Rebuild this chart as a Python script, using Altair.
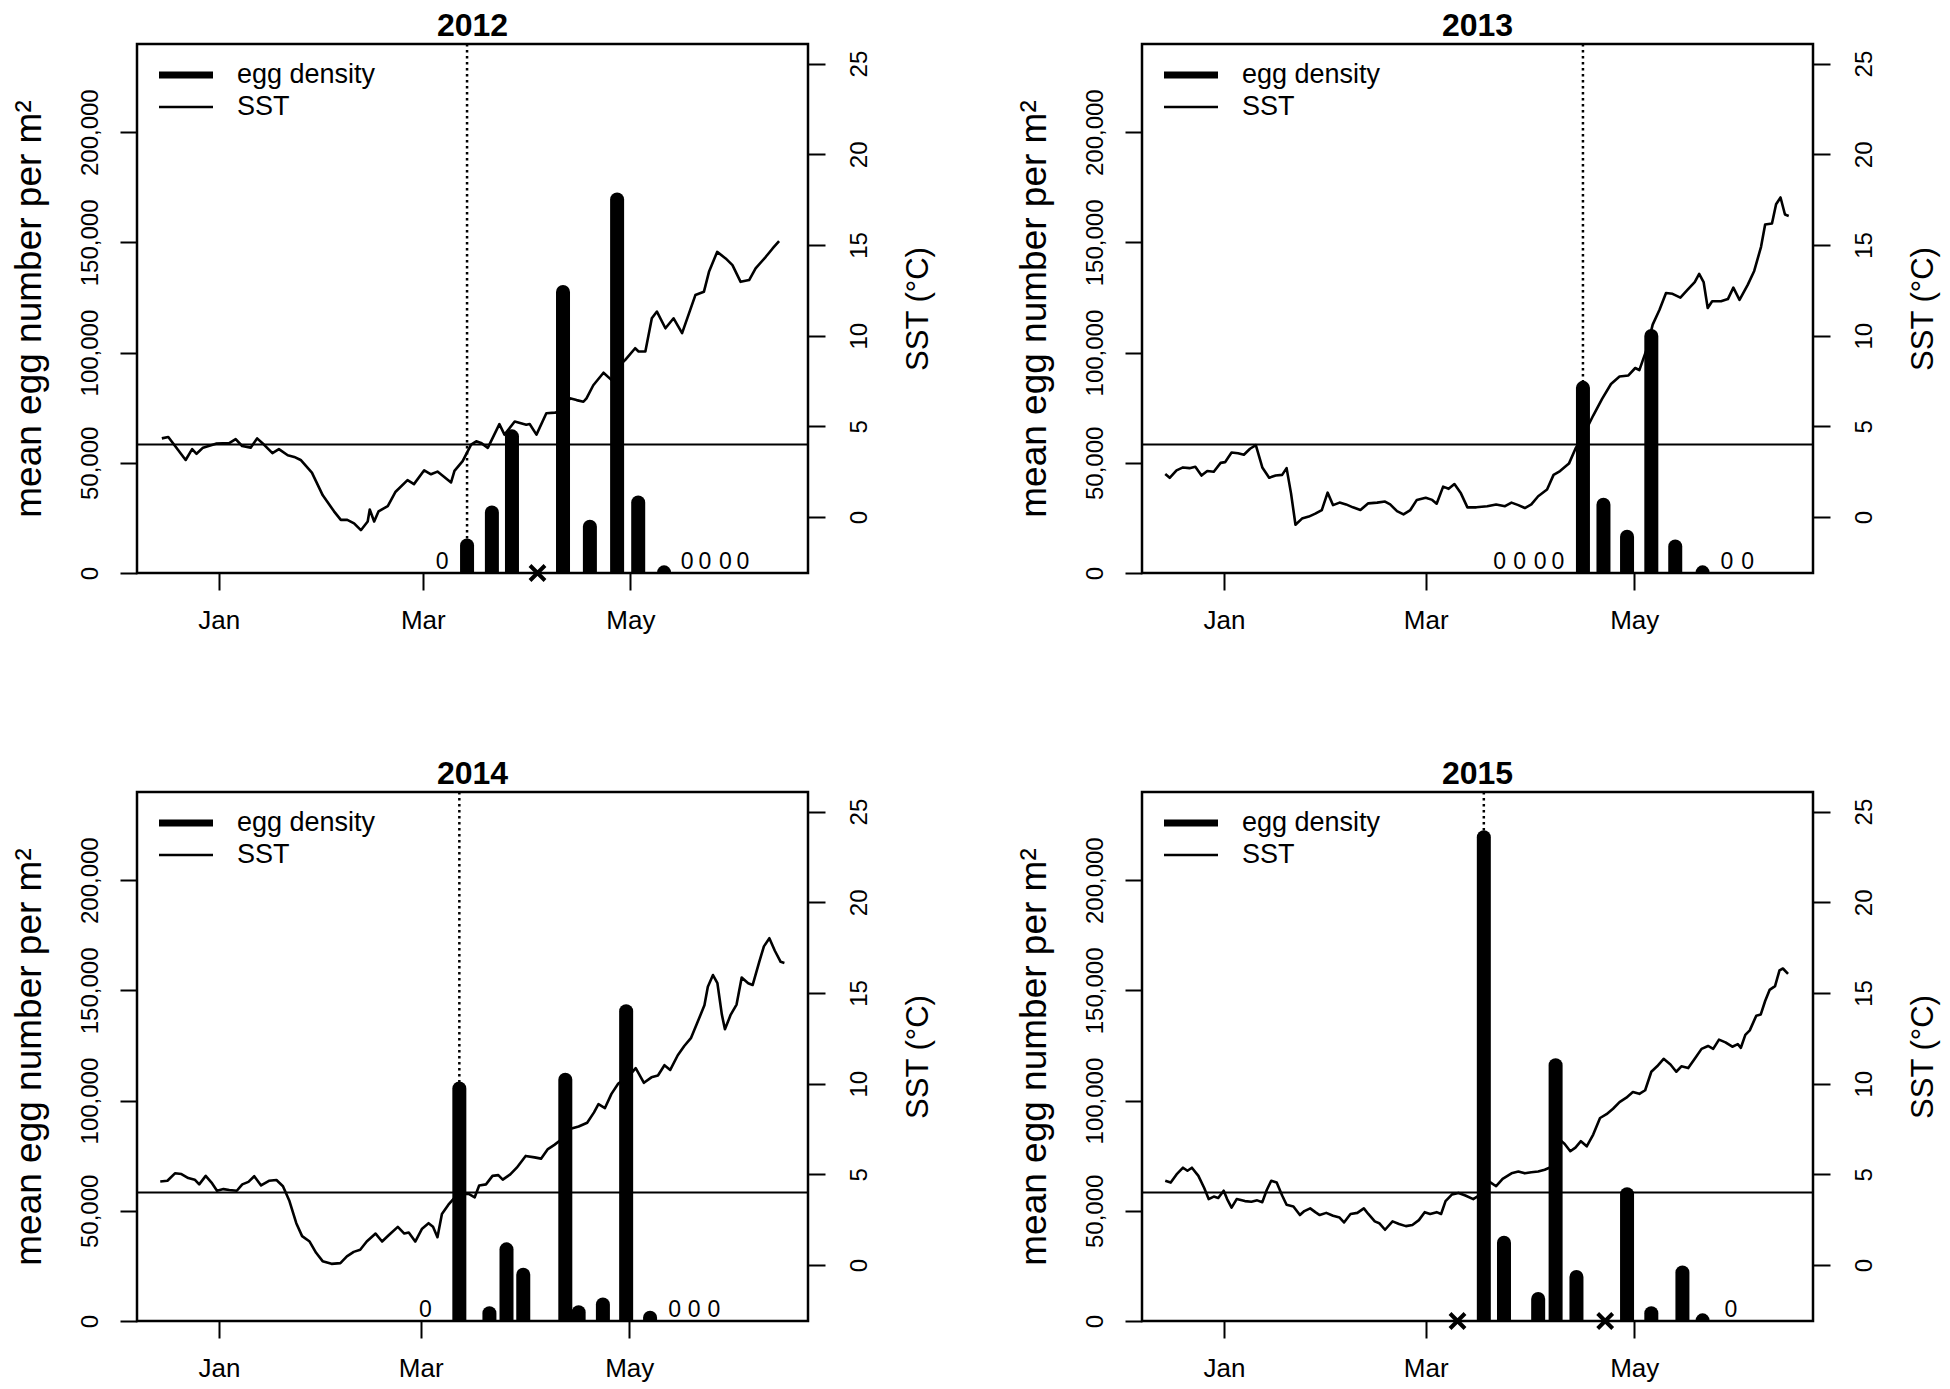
import altair as alt
import pandas as pd

FONT = "Liberation Sans"

# ---------------- shared axis values ----------------
month_labels = ["Jan", "Mar", "May"]
month_ticks_leap = [0, 60, 121]      # 2012 (leap year), days since 1 Jan
month_ticks = [0, 59, 120]           # other years
egg_ticks = [0, 50000, 100000, 150000, 200000]
sst_ticks = [0, 5, 10, 15, 20, 25]
egg_domain = [0, 240000]
sst_domain = [-3.08, 26.08]
x_domain_leap = [-24, 173.2]
x_domain = [-24, 172.3]
sst_threshold = 4
series_names = ["egg density", "SST"]

# ---------------- 2012 ----------------
sst_day_2012 = [-16.7, -14.8, -9.7, -7.8, -6.5, -4.6, -0.8, 3.1, 5.0, 6.9, 9.4, 11.3, 13.3, 15.8,
                17.7, 20.3, 22.2, 24.1, 27.4, 30.6, 33.9, 35.9, 37.8, 39.8, 41.8, 43.8, 44.4, 45.7,
                47.0, 49.7, 52.0, 55.5, 57.4, 60.4, 62.4, 64.3, 68.3, 69.3, 71.7, 74.2, 75.7, 77.1,
                79.1, 82.5, 84.0, 87.0, 90.4, 91.4, 93.4, 96.3, 98.8, 101.0, 103.2, 105.2, 107.2,
                108.1, 110.1, 113.1, 115.5, 117.5, 119.5, 122.4, 123.4, 125.4, 127.3, 128.8, 131.3,
                133.7, 136.2, 140.1, 142.6, 144.1, 146.5, 149.0, 151.0, 153.4, 155.9, 157.8, 160.8,
                162.8, 164.7]
sst_2012 = [4.34, 4.42, 3.15, 3.75, 3.49, 3.83, 4.05, 4.08, 4.30, 3.92, 3.83, 4.34, 4.00, 3.53,
            3.75, 3.41, 3.32, 3.15, 2.45, 1.20, 0.32, -0.15, -0.15, -0.34, -0.72, -0.24, 0.42, -0.24,
            0.32, 0.61, 1.40, 2.04, 1.82, 2.58, 2.36, 2.51, 1.91, 2.55, 3.09, 4.00, 4.18, 4.09,
            3.82, 5.13, 4.55, 5.27, 5.09, 5.13, 4.55, 5.73, 5.76, 5.80, 6.55, 6.45, 6.36,
            6.55, 7.27, 7.96, 7.55, 8.30, 8.67, 9.31, 9.13, 9.13, 10.96, 11.33, 10.41,
            10.96, 10.14, 12.24, 12.42, 13.52, 14.62, 14.26, 13.89, 12.97, 13.07, 13.71, 14.35,
            14.81, 15.21]
egg_day_2012 = [73.0, 80.3, 86.2, 101.2, 109.1, 117.1, 123.3, 130.9]
egg_2012 = [12500, 27500, 62000, 127500, 21000, 169500, 32000, 300]
zero_day_2012 = [65.7, 137.7, 142.9, 148.9, 154.1]
missing_day_2012 = [93.7]
onset_2012 = 73.0

# ---------------- 2013 ----------------
sst_day_2013 = [-17.2, -15.9, -13.9, -12.0, -10.1, -8.4, -6.6, -4.9, -3.0, -1.0, 0.3, 2.2, 4.1, 5.8,
                7.6, 9.3, 11.2, 13.2, 15.1, 17.0, 18.3, 19.6, 20.9, 22.8, 24.8, 26.7, 28.6, 30.3,
                31.9, 33.8, 35.7, 37.7, 39.9, 42.2, 44.8, 47.1, 48.6, 50.6, 52.5, 54.5, 56.4, 59.0,
                60.9, 62.2, 64.1, 65.7, 67.4, 69.3, 71.2, 73.8, 77.0, 79.6, 82.2, 84.1, 86.1, 88.0,
                89.9, 91.9, 94.5, 96.4, 98.3, 100.9, 102.8, 105.4, 108.0, 110.6, 113.2, 115.7, 118.3,
                120.3, 121.5, 123.5, 125.4, 127.4, 129.3, 131.2, 133.5, 135.7, 137.7, 139.0, 140.3,
                141.5, 142.8, 145.4, 147.4, 149.0, 150.8, 153.2, 155.1, 157.1, 158.3, 160.3, 161.5,
                162.8, 164.1, 165.2]
sst_2013 = [2.38, 2.17, 2.58, 2.74, 2.70, 2.78, 2.29, 2.54, 2.50, 2.99, 3.03, 3.56, 3.52, 3.44,
            3.77, 3.97, 2.74, 2.17, 2.29, 2.33, 2.70, 1.31, -0.42, -0.08, 0.03, 0.19, 0.39, 1.35,
            0.66, 0.80, 0.70, 0.54, 0.39, 0.76, 0.80, 0.86, 0.70, 0.33, 0.15, 0.39, 0.95, 1.07,
            0.95, 0.74, 1.68, 1.56, 1.82, 1.31, 0.54, 0.54, 0.60, 0.70, 0.60, 0.80, 0.66, 0.50,
            0.70, 1.15, 1.52, 2.33, 2.54, 2.95, 3.77, 4.62, 5.60, 6.52, 7.34, 7.75, 7.81,
            8.22, 8.10, 9.18, 10.61, 11.43, 12.35, 12.31, 12.10, 12.55, 12.96, 13.41, 12.96,
            11.53, 11.90, 11.90, 12.02, 12.65, 11.98, 12.80, 13.57, 14.90, 16.13, 16.19, 17.25,
            17.62, 16.68, 16.60]
egg_day_2013 = [105.0, 111.0, 117.9, 125.0, 132.0, 140.0]
egg_2013 = [84000, 31000, 16500, 107500, 12000, 300]
zero_day_2013 = [80.6, 86.5, 92.5, 97.7, 147.1, 153.2]
missing_day_2013 = []
onset_2013 = 105.0

# ---------------- 2014 ----------------
sst_day_2014 = [-17.2, -15.1, -12.9, -11.0, -9.0, -7.1, -5.8, -3.9, -2.2, -0.6, 1.3, 3.0, 5.2, 6.8,
                8.6, 10.3, 12.3, 14.6, 16.8, 18.7, 20.6, 22.6, 24.3, 26.5, 28.4, 30.3, 32.9, 35.5,
                37.4, 39.4, 41.3, 43.2, 45.8, 47.7, 49.7, 52.3, 54.2, 55.5, 57.4, 59.4, 61.3, 62.6,
                63.9, 65.2, 67.1, 69.0, 71.0, 72.9, 74.8, 76.1, 78.1, 80.0, 81.7, 83.0, 85.2, 87.1,
                89.7, 92.3, 94.2, 96.1, 98.1, 100.6, 102.6, 105.2, 107.7, 109.7, 111.0, 112.9, 114.8,
                116.8, 118.7, 120.0, 121.9, 124.3, 126.5, 128.4, 130.3, 132.0, 134.2, 136.1, 138.1,
                140.0, 142.0, 143.0, 144.5, 145.8, 147.1, 148.0, 149.7, 151.4, 152.9, 154.8, 156.1,
                158.1, 159.4, 161.0, 162.6, 164.3, 165.4]
sst_2014 = [4.61, 4.65, 5.06, 5.02, 4.80, 4.71, 4.45, 4.92, 4.55, 4.10, 4.19, 4.14, 4.10, 4.45,
            4.59, 4.90, 4.39, 4.65, 4.69, 4.35, 3.53, 2.31, 1.60, 1.30, 0.68, 0.22, 0.07, 0.11,
            0.48, 0.73, 0.85, 1.30, 1.74, 1.30, 1.66, 2.11, 1.74, 1.80, 1.30, 2.01, 2.31, 2.11,
            1.54, 2.82, 3.33, 3.74, 3.90, 3.94, 3.74, 4.39, 4.45, 4.92, 4.96, 4.71, 5.00, 5.37,
            6.02, 5.94, 5.87, 6.38, 6.63, 6.99, 7.50, 7.64, 7.85, 8.42, 8.87, 8.66, 9.44,
            10.01, 10.25, 10.45, 10.86, 10.05, 10.35, 10.45, 11.02, 10.76, 11.57, 12.08, 12.53,
            13.40, 14.32, 15.34, 15.99, 15.54, 13.81, 13.00, 13.81, 14.36, 15.85, 15.54, 15.44,
            16.76, 17.57, 18.02, 17.33, 16.72, 16.66]
egg_day_2014 = [70.3, 79.1, 84.1, 89.0, 101.3, 105.2, 112.3, 119.1, 126.1]
egg_2014 = [105500, 3500, 32500, 21000, 109500, 4000, 7500, 140500, 1500]
zero_day_2014 = [60.4, 133.3, 139.0, 144.8]
missing_day_2014 = []
onset_2014 = 70.3

# ---------------- 2015 ----------------
sst_day_2015 = [-17.2, -15.6, -13.9, -12.0, -10.7, -9.4, -7.5, -5.8, -4.5, -3.0, -1.7, -0.1, 0.9, 2.2,
                3.7, 6.1, 8.0, 9.7, 11.2, 12.5, 13.8, 15.4, 17.0, 18.3, 20.3, 22.2, 23.5, 25.2,
                26.7, 28.0, 29.9, 31.9, 33.8, 35.1, 37.0, 39.0, 40.9, 42.2, 44.1, 45.4, 47.1, 49.3,
                51.2, 53.2, 55.1, 57.0, 58.7, 60.3, 62.2, 63.5, 64.8, 66.7, 68.6, 70.6, 72.9, 75.1,
                77.7, 79.6, 81.5, 84.1, 86.1, 88.0, 89.9, 91.9, 93.8, 95.7, 97.7, 99.6, 101.3,
                102.8, 104.4, 106.1, 108.0, 110.0, 111.9, 113.8, 115.7, 117.7, 119.6, 121.5, 123.2,
                125.0, 126.7, 128.6, 130.6, 132.3, 133.8, 135.8, 137.7, 139.7, 141.6, 143.1, 144.8,
                146.7, 148.7, 150.3, 151.2, 152.5, 153.8, 155.7, 157.0, 158.3, 159.6, 161.2, 162.5,
                163.5, 165.0]
sst_2015 = [4.65, 4.55, 5.00, 5.37, 5.20, 5.37, 4.92, 4.25, 3.64, 3.78, 3.70, 4.10, 3.64, 3.17,
            3.64, 3.53, 3.49, 3.57, 3.47, 4.14, 4.65, 4.55, 3.84, 3.33, 3.23, 2.76, 2.98, 3.13,
            2.92, 2.76, 2.88, 2.72, 2.62, 2.35, 2.82, 2.88, 3.13, 2.82, 2.41, 2.31, 1.95, 2.41,
            2.27, 2.15, 2.21, 2.48, 2.92, 2.82, 2.92, 2.82, 3.53, 3.90, 3.98, 3.84, 3.64, 3.90,
            4.59, 4.35, 4.75, 5.06, 5.16, 5.06, 5.12, 5.16, 5.26, 5.41, 6.99, 6.69, 6.28,
            6.48, 6.83, 6.55, 7.20, 8.11, 8.32, 8.62, 8.99, 9.23, 9.54, 9.44, 9.64,
            10.66, 10.96, 11.37, 11.06, 10.66, 10.96, 10.86, 11.37, 11.92, 12.08, 11.92, 12.43,
            12.28, 12.04, 12.18, 11.98, 12.69, 12.94, 13.75, 13.81, 14.56, 15.17, 15.38, 16.25,
            16.35, 16.05]
egg_day_2015 = [76.0, 81.9, 91.9, 97.0, 103.1, 117.9, 125.0, 134.1, 140.0]
egg_2015 = [219500, 35500, 10000, 116000, 20000, 57500, 3500, 22000, 300]
zero_day_2015 = [148.3]
missing_day_2015 = [68.3, 111.5]
onset_2015 = 76.0

# ---------------- styling ----------------
W, H = 671, 529
BAR_W = 14
LEGEND_W = [7, 2.6]      # legend stroke widths: egg density, SST
LINE_W = 2.6
TICK = 17


def make_label_expr(ticks):
    return (f"datum.value == {ticks[0]} ? '{month_labels[0]}' : "
            f"datum.value == {ticks[1]} ? '{month_labels[1]}' : '{month_labels[2]}'")


def panel(year, sst_day, sst, egg_day, egg, zero_day, missing_day, onset, ticks, xdom):
    sst_df = pd.DataFrame({"day": sst_day, "sst": sst, "series": "SST"})
    egg_df = pd.DataFrame({"day": egg_day, "eggs": egg})
    zero_df = pd.DataFrame({"day": zero_day, "eggs": [0] * len(zero_day), "label": "0"})
    miss_df = pd.DataFrame({"day": missing_day, "eggs": [0] * len(missing_day)})
    onset_df = pd.DataFrame({"day": [onset]})
    thr_df = pd.DataFrame({"sst": [sst_threshold]})

    x_axis = alt.Axis(values=ticks, labelExpr=make_label_expr(ticks), title=None, grid=False,
                      domain=False, tickSize=TICK, tickWidth=2, tickColor="black",
                      labelFontSize=26, labelFont=FONT, labelColor="black", labelPadding=17,
                      labelFlush=False, labelOverlap=False)
    xenc = alt.X("day:Q", scale=alt.Scale(domain=xdom, nice=False, zero=False), axis=x_axis)

    egg_scale = alt.Scale(domain=egg_domain, nice=False, zero=False)
    egg_axis = alt.Axis(orient="left", values=egg_ticks, format=",d",
                        title="mean egg number per m²", titleFont=FONT, titleFontSize=37,
                        titleFontWeight="normal", titleColor="black", titleAngle=270,
                        titleX=-108, titleY=H / 2, titleAlign="center", titleBaseline="middle",
                        labelAngle=270, labelAlign="center", labelBaseline="middle",
                        labelPadding=30, labelFontSize=24, labelFont=FONT, labelColor="black",
                        tickSize=TICK, tickWidth=2, tickColor="black", grid=False, domain=False,
                        labelFlush=False, labelOverlap=False)
    sst_scale = alt.Scale(domain=sst_domain, nice=False, zero=False)
    sst_axis = alt.Axis(orient="right", values=sst_ticks, title="SST (°C)", titleFont=FONT,
                        titleFontSize=31, titleFontWeight="normal", titleColor="black",
                        titleAngle=270, titleX=110, titleY=H / 2, titleAlign="center",
                        titleBaseline="middle", labelAngle=270, labelAlign="center",
                        labelBaseline="middle", labelPadding=34, labelFontSize=24,
                        labelFont=FONT, labelColor="black", tickSize=TICK, tickWidth=2,
                        tickColor="black", grid=False, domain=False, labelFlush=False,
                        labelOverlap=False)

    sw_scale = alt.Scale(domain=series_names, range=LEGEND_W)
    legend = alt.Legend(title=None, orient="none", legendX=18.5, legendY=17.5,
                        symbolType="stroke", symbolSize=2916, clipHeight=27, rowPadding=4,
                        labelFontSize=27, labelFont=FONT, labelColor="black", labelOffset=20.5,
                        padding=0, symbolStrokeColor="black")

    onset_rule = alt.Chart(onset_df).mark_rule(
        color="black", strokeWidth=2.5, strokeDash=[2.5, 3.5]).encode(x=xenc)
    bars = alt.Chart(egg_df).mark_rule(
        color="black", strokeCap="round", clip=True, strokeWidth=BAR_W).encode(
        x=xenc,
        y=alt.Y("eggs:Q", scale=egg_scale, axis=egg_axis),
        y2=alt.datum(0),
    )
    zeros = alt.Chart(zero_df).mark_text(
        fontSize=23, font=FONT, color="black", baseline="alphabetic", dy=-4).encode(
        x=xenc, y=alt.Y("eggs:Q", scale=egg_scale, axis=egg_axis), text="label:N")
    layers = [onset_rule, bars, zeros]
    if len(missing_day) > 0:
        crosses = alt.Chart(miss_df).mark_point(
            shape="M-1,-1L1,1M-1,1L1,-1", size=225, strokeWidth=4, filled=False,
            color="black", opacity=1).encode(
            x=xenc, y=alt.Y("eggs:Q", scale=egg_scale, axis=egg_axis))
        layers.append(crosses)
    egg_group = alt.layer(*layers)

    thr = alt.Chart(thr_df).mark_rule(color="black", strokeWidth=2).encode(
        y=alt.Y("sst:Q", scale=sst_scale, axis=sst_axis))
    line = alt.Chart(sst_df).mark_line(color="black", strokeJoin="round").encode(
        x=xenc,
        y=alt.Y("sst:Q", scale=sst_scale, axis=sst_axis),
        strokeWidth=alt.StrokeWidth("series:O", scale=sw_scale, legend=legend),
    )
    sst_group = alt.layer(thr, line)

    return alt.layer(egg_group, sst_group).resolve_scale(y="independent").properties(
        width=W, height=H,
        title=alt.TitleParams(text=year, fontSize=32, fontWeight="bold", font=FONT,
                              anchor="middle", frame="group", offset=0, color="black"),
    )


p2012 = panel("2012", sst_day_2012, sst_2012, egg_day_2012, egg_2012, zero_day_2012,
              missing_day_2012, onset_2012, month_ticks_leap, x_domain_leap)
p2013 = panel("2013", sst_day_2013, sst_2013, egg_day_2013, egg_2013, zero_day_2013,
              missing_day_2013, onset_2013, month_ticks, x_domain)
p2014 = panel("2014", sst_day_2014, sst_2014, egg_day_2014, egg_2014, zero_day_2014,
              missing_day_2014, onset_2014, month_ticks, x_domain)
p2015 = panel("2015", sst_day_2015, sst_2015, egg_day_2015, egg_2015, zero_day_2015,
              missing_day_2015, onset_2015, month_ticks, x_domain)

chart = alt.concat(p2012, p2013, p2014, p2015, columns=2,
                   spacing={"row": 219, "column": 334}, bounds="flush") \
    .resolve_scale(x="independent", y="independent", strokeWidth="independent") \
    .resolve_legend(strokeWidth="independent") \
    .properties(padding={"left": 0, "top": 0, "right": 2, "bottom": 2}, background="white") \
    .configure_view(stroke="black", strokeWidth=2.5)

chart.save("out.html", embed_options={"renderer": "svg", "actions": False})
